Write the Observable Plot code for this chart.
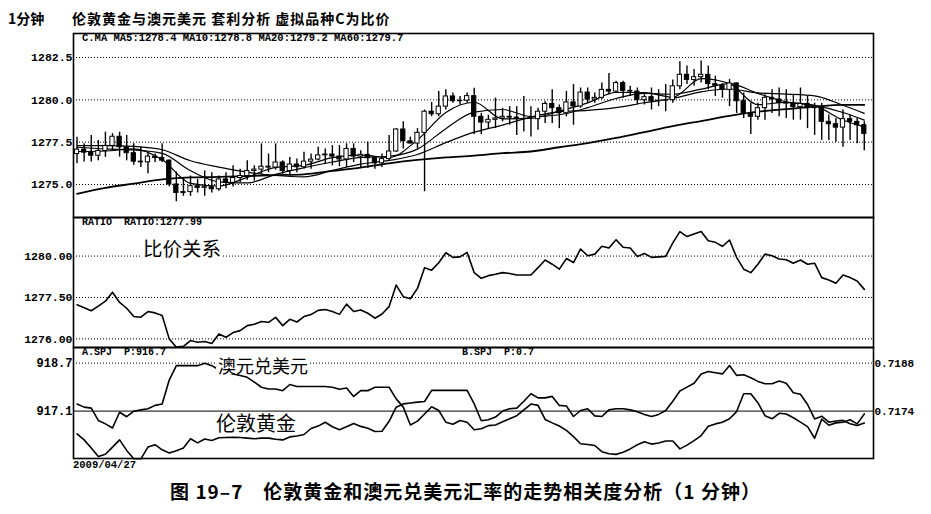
<!DOCTYPE html>
<html><head><meta charset="utf-8">
<script src="https://cdn.jsdelivr.net/npm/d3@7"></script>
<script src="https://cdn.jsdelivr.net/npm/@observablehq/plot@0.6"></script>
<style>
html,body{margin:0;padding:0;background:#fff;overflow:hidden;}
#wrap{position:relative;width:931px;height:514px;font-family:"Noto Sans CJK SC",sans-serif;color:#000;}
.abs{position:absolute;white-space:pre;line-height:1;}
.mono{font-family:"Liberation Mono","DejaVu Sans Mono",monospace;font-weight:bold;font-size:10px;}
.cjk{font-family:"Noto Sans CJK SC",sans-serif;}
</style></head><body><div id="wrap"></div>
<script>
// ---------- data ----------
const closes = [1277.06,1276.88,1276.70,1276.98,1277.28,1277.82,1277.20,1276.85,1276.35,1276.31,
1276.65,1276.57,1276.41,1275.00,1274.50,1274.55,1274.90,1274.80,1274.84,1274.72,
1275.30,1275.10,1275.38,1275.50,1275.80,1275.88,1276.05,1276.00,1276.30,1275.80,
1276.18,1276.02,1276.35,1276.47,1276.72,1276.77,1276.65,1276.48,1277.10,1276.65,
1276.75,1276.55,1276.25,1276.50,1276.95,1278.25,1277.55,1277.42,1278.05,1279.30,
1279.15,1279.60,1280.20,1279.92,1279.95,1280.22,1279.00,1278.66,1278.82,1278.90,
1279.00,1278.95,1278.86,1278.86,1278.86,1279.30,1279.76,1279.51,1279.21,1279.85,
1279.61,1280.43,1280.02,1280.12,1280.59,1280.49,1280.99,1280.53,1280.49,1279.98,
1280.16,1279.92,1279.95,1279.98,1280.80,1281.48,1281.18,1281.34,1281.48,1280.93,
1280.83,1280.59,1280.97,1279.92,1279.21,1279.00,1279.51,1280.12,1280.02,1279.82,
1279.78,1279.57,1279.76,1279.51,1279.57,1278.70,1278.56,1278.36,1278.86,1278.70,
1278.50,1277.99];
const opens = [1276.80,1277.06,1276.88,1276.70,1276.98,1277.28,1277.82,1277.20,1276.85,1276.35,
1276.31,1276.65,1276.57,1276.41,1275.00,1274.50,1274.55,1274.90,1274.80,1274.84,
1274.72,1275.30,1275.10,1275.38,1275.50,1275.80,1275.88,1276.05,1276.00,1276.30,
1275.80,1276.18,1276.02,1276.35,1276.47,1276.72,1276.77,1276.65,1276.48,1277.10,
1276.65,1276.75,1276.55,1276.25,1276.50,1276.95,1278.25,1277.55,1277.42,1278.05,
1279.30,1279.15,1279.60,1280.20,1279.92,1279.95,1280.22,1279.00,1278.66,1278.82,
1278.90,1279.00,1278.95,1278.86,1278.86,1278.86,1279.30,1279.76,1279.51,1279.21,
1279.85,1279.61,1280.43,1280.02,1280.12,1280.59,1280.49,1280.99,1280.53,1280.49,
1279.98,1280.16,1279.92,1279.95,1279.98,1280.80,1281.48,1281.18,1281.34,1281.48,
1280.93,1280.83,1280.59,1280.97,1279.92,1279.21,1279.00,1279.51,1280.12,1280.02,
1279.82,1279.78,1279.57,1279.76,1279.51,1279.57,1278.70,1278.56,1278.36,1278.86,
1278.70,1278.50];
const highs = [1277.79,1277.40,1277.90,1277.60,1278.09,1278.00,1278.09,1277.90,1277.40,1277.20,
1276.85,1276.80,1277.40,1276.45,1275.74,1275.40,1275.50,1275.30,1275.80,1275.70,
1275.50,1275.70,1276.10,1275.90,1276.40,1276.10,1277.40,1276.80,1277.40,1276.40,
1276.60,1276.50,1276.90,1276.80,1277.20,1277.10,1277.30,1277.30,1277.40,1277.40,
1277.00,1277.50,1276.60,1276.80,1277.90,1278.30,1278.70,1277.80,1278.30,1279.40,
1279.85,1280.50,1280.60,1280.40,1280.20,1280.40,1280.68,1279.20,1279.10,1280.10,
1279.50,1279.60,1279.60,1280.20,1279.60,1279.50,1279.90,1280.60,1279.70,1280.50,
1280.90,1280.70,1280.70,1280.40,1281.00,1281.55,1281.10,1281.10,1280.80,1280.70,
1280.40,1280.70,1280.60,1280.90,1281.17,1282.25,1282.00,1281.80,1282.30,1282.00,
1281.40,1280.95,1281.20,1281.00,1280.40,1279.80,1279.80,1280.30,1280.60,1280.70,
1280.60,1280.30,1280.70,1280.20,1279.80,1279.80,1279.10,1278.90,1279.40,1279.10,
1278.90,1278.70];
const lows = [1276.23,1276.33,1276.33,1276.40,1276.60,1277.00,1276.62,1276.40,1276.13,1276.00,
1275.64,1276.30,1276.30,1274.86,1273.98,1274.30,1274.30,1274.50,1274.30,1274.50,
1274.60,1274.75,1274.85,1275.10,1275.25,1275.20,1275.60,1275.70,1275.85,1275.60,
1275.50,1275.70,1275.90,1275.90,1276.40,1276.20,1276.10,1276.05,1276.00,1276.30,
1276.00,1275.95,1275.90,1276.00,1276.40,1276.90,1277.10,1277.40,1277.10,1274.57,
1279.00,1279.00,1279.40,1279.80,1279.70,1279.80,1277.95,1277.95,1278.30,1278.30,
1278.70,1278.50,1277.90,1278.10,1277.80,1278.20,1278.60,1278.60,1278.30,1279.00,
1278.50,1279.50,1279.80,1279.80,1280.00,1280.30,1280.40,1280.10,1280.20,1279.70,
1279.70,1279.40,1279.60,1279.30,1279.80,1280.60,1280.90,1280.80,1281.00,1280.60,
1280.20,1280.10,1279.60,1279.20,1278.90,1277.95,1278.80,1278.80,1279.20,1279.00,
1278.90,1278.80,1278.80,1278.30,1277.90,1277.60,1277.60,1277.50,1277.20,1277.60,
1277.40,1277.00];

// moving averages read at these bar positions
const maIdx = [0,4,8,12,16,20,24,28,32,36,40,44,48,52,56,60,64,68,72,76,80,84,88,92,96,100,104,108,111];
const ma5  = [1276.95,1276.98,1277.10,1276.46,1275.07,1274.91,1275.42,1276.01,1276.13,1276.59,1276.73,1276.60,1277.64,1279.26,1279.86,1278.88,1278.91,1279.33,1279.82,1280.44,1280.43,1280.16,1281.26,1280.96,1279.72,1279.85,1279.64,1278.81,1278.40];
const ma10 = [1277.20,1277.10,1277.04,1276.84,1275.81,1275.16,1275.09,1275.60,1275.99,1276.33,1276.60,1276.67,1277.09,1278.30,1279.28,1279.43,1279.01,1279.12,1279.54,1280.08,1280.38,1280.33,1280.63,1280.96,1280.38,1279.89,1279.67,1279.25,1278.80];
const ma20 = [1277.30,1277.30,1277.25,1277.05,1276.40,1276.03,1275.73,1275.53,1275.45,1275.83,1276.20,1276.42,1276.77,1277.47,1278.09,1278.51,1278.98,1279.30,1279.38,1279.54,1279.83,1280.08,1280.47,1280.64,1280.41,1280.34,1280.23,1279.68,1279.20];
const ma60 = [1274.45,1274.80,1275.05,1275.30,1275.42,1275.45,1275.50,1275.55,1275.60,1275.80,1276.00,1276.25,1276.45,1276.60,1276.70,1276.85,1276.95,1277.20,1277.45,1277.75,1278.10,1278.45,1278.75,1279.05,1279.30,1279.45,1279.60,1279.70,1279.70];

// ratio line (C = gold / AUDUSD)
const ratio = closes;

// A.SPJ London gold (left axis), B.SPJ AUD/USD (right axis)
const gold = [916.34,916.14,915.87,915.59,915.66,915.90,916.14,915.79,915.51,915.51,
915.90,915.98,915.81,915.70,915.78,915.87,916.18,916.04,916.17,916.12,
916.21,916.22,916.23,916.22,916.20,916.18,916.20,916.20,916.16,916.14,
916.24,916.27,916.32,916.52,916.60,916.73,916.58,916.48,916.58,916.69,
916.59,916.53,916.42,916.43,916.76,917.23,917.34,917.37,917.40,917.42,
917.79,917.79,917.79,917.79,917.79,917.79,917.34,916.78,916.81,916.90,
917.10,917.18,917.20,917.43,917.68,917.54,917.54,917.59,917.29,917.27,
916.92,917.12,917.18,916.94,916.92,917.14,917.18,917.18,917.14,917.08,
916.99,916.92,916.99,917.12,917.43,917.77,917.90,918.03,918.34,918.42,
918.38,918.34,918.62,918.29,918.31,918.21,918.09,918.01,918.01,918.10,
918.03,917.71,917.66,917.32,916.84,916.93,916.73,916.77,916.79,916.68,
916.62,916.70];
const aud = [0.71761,0.71752,0.71749,0.71713,0.71703,0.71691,0.71737,0.71724,0.71740,0.71744,
0.71747,0.71757,0.71761,0.71831,0.71873,0.71873,0.71873,0.71873,0.71880,0.71873,
0.71861,0.71854,0.71849,0.71844,0.71839,0.71825,0.71810,0.71805,0.71805,0.71800,
0.71818,0.71812,0.71812,0.71812,0.71812,0.71812,0.71810,0.71804,0.71808,0.71783,
0.71800,0.71800,0.71810,0.71810,0.71810,0.71776,0.71752,0.71700,0.71711,0.71732,
0.71753,0.71742,0.71708,0.71702,0.71713,0.71708,0.71686,0.71689,0.71698,0.71700,
0.71709,0.71718,0.71727,0.71744,0.71761,0.71757,0.71716,0.71706,0.71697,0.71684,
0.71666,0.71645,0.71643,0.71640,0.71622,0.71616,0.71614,0.71620,0.71630,0.71642,
0.71651,0.71644,0.71647,0.71653,0.71653,0.71630,0.71641,0.71654,0.71669,0.71696,
0.71703,0.71708,0.71718,0.71739,0.71791,0.71791,0.71765,0.71727,0.71718,0.71734,
0.71732,0.71721,0.71708,0.71695,0.71661,0.71717,0.71699,0.71706,0.71708,0.71715,
0.71703,0.71732];

// tick values / labels
const topTicks = [1282.5, 1280.0, 1277.5, 1275.0];
const topTickLabels = ["1282.5", "1280.0", "1277.5", "1275.0"];
const midTicks = [1280, 1277.5, 1275];
const midTickLabels = ["1280.00", "1277.50", "1276.00"];
const goldTicks = [918.7, 917.1];
const goldTickLabels = ["918.7", "917.1"];
const audTicks = [0.7188, 0.7174];
const audTickLabels = ["0.7188", "0.7174"];

// ---------- build ----------
const wrap = document.getElementById("wrap");
function addText(txt, cls, left, top, size, extra) {
  const d = document.createElement("div");
  d.className = "abs " + cls;
  d.textContent = txt;
  d.style.left = left + "px"; d.style.top = top + "px";
  if (size) d.style.fontSize = size + "px";
  if (extra) Object.assign(d.style, extra);
  wrap.appendChild(d);
  return d;
}
function place(svg, top) {
  svg.style.position = "absolute"; svg.style.left = "0px"; svg.style.top = top + "px";
  wrap.appendChild(svg);
}
const lab = (ticks, labels) => d => labels[ticks.indexOf(d)];
const monoFont = "Liberation Mono, DejaVu Sans Mono, monospace";
const candles = closes.map((c, i) => ({i, o: opens[i], h: highs[i], l: lows[i], c}));
const maRows = (arr) => maIdx.map((i, k) => ({i, v: arr[k]}));
const common = {
  width: 931, marginLeft: 73, marginRight: 58, marginTop: 0, marginBottom: 0,
  x: {domain: [-0.5, 112.3], axis: null},
  style: {background: "transparent", color: "black", overflow: "visible", fontFamily: monoFont}
};
const dotted = {stroke: "black", strokeDasharray: "1,2", strokeWidth: 1};
const axisOpts = {tickSize: 0, tickPadding: 1, fontSize: 11.5, fontWeight: "bold", fontFamily: monoFont};

// panel 1: candles + MAs
const p1 = Plot.plot({
  ...common, height: 184,
  y: {domain: [1273.05, 1283.92], axis: null},
  marks: [
    Plot.ruleY(topTicks, dotted),
    Plot.axisY({...axisOpts, ticks: topTicks, tickFormat: lab(topTicks, topTickLabels)}),
    Plot.line(maRows(ma60), {x: "i", y: "v", stroke: "black", strokeWidth: 1.8, curve: "monotone-x"}),
    Plot.line(maRows(ma20), {x: "i", y: "v", stroke: "black", strokeWidth: 1.2, curve: "monotone-x"}),
    Plot.line(maRows(ma10), {x: "i", y: "v", stroke: "black", strokeWidth: 1.2, curve: "monotone-x"}),
    Plot.line(maRows(ma5), {x: "i", y: "v", stroke: "black", strokeWidth: 1.2, curve: "monotone-x"}),
    Plot.ruleX(candles, {x: "i", y1: "l", y2: "h", stroke: "black", strokeWidth: 1.4}),
    Plot.rect(candles, {x1: d => d.i - 0.3, x2: d => d.i + 0.3, y1: "o", y2: "c",
      fill: d => d.c >= d.o ? "white" : "black", stroke: "black", strokeWidth: 1}),
    Plot.frame({stroke: "black", strokeWidth: 1.6})
  ]
});
place(p1, 33);

// panel 2: ratio
const p2 = Plot.plot({
  ...common, height: 130,
  y: {domain: [1274.48, 1282.33], axis: null},
  marks: [
    Plot.ruleY(midTicks, dotted),
    Plot.axisY({...axisOpts, ticks: midTicks, tickFormat: lab(midTicks, midTickLabels)}),
    Plot.line(ratio, {x: (d, i) => i, y: d => d, stroke: "black", strokeWidth: 1.6}),
    Plot.frame({stroke: "black", strokeWidth: 1.6})
  ]
});
place(p2, 217);

// panel 3: gold (left axis) + AUD/USD (right axis)
const p3a = Plot.plot({
  ...common, height: 111,
  y: {domain: [915.52, 919.22], axis: null},
  marks: [
    Plot.ruleY([goldTicks[0]], dotted),
    Plot.ruleY([goldTicks[1]], {stroke: "black", strokeWidth: 1}),
    Plot.axisY({...axisOpts, fontSize: 12, ticks: goldTicks, tickFormat: lab(goldTicks, goldTickLabels)}),
    Plot.line(gold, {x: (d, i) => i, y: d => d, stroke: "black", strokeWidth: 1.6}),
    Plot.frame({stroke: "black", strokeWidth: 1.6})
  ]
});
place(p3a, 347);
const p3b = Plot.plot({
  ...common, height: 111,
  y: {domain: [0.71602, 0.71926], axis: null},
  marks: [
    Plot.axisY({...axisOpts, fontSize: 11, anchor: "right", ticks: audTicks, tickFormat: lab(audTicks, audTickLabels)}),
    Plot.line(aud, {x: (d, i) => i, y: d => d, stroke: "black", strokeWidth: 1.6})
  ]
});
place(p3b, 347);

// texts
addText("1分钟", "cjk", 8, 11, 14, {fontWeight: "bold"});
addText("伦敦黄金与澳元美元 套利分析 虚拟品种C为比价", "cjk", 72, 11, 14, {fontWeight: "bold", letterSpacing: "1px"});
addText("C.MA MA5:1278.4 MA10:1278.8 MA20:1279.2 MA60:1279.7", "mono", 82, 33, 10.5);
addText("RATIO  RATIO:1277.99", "mono", 82, 218, 10);
addText("比价关系", "cjk", 141, 238, 19.5, {background: "white", padding: "0 2px"});
addText("A.SPJ  P:916.7", "mono", 82, 348, 10);
addText("B.SPJ  P:0.7", "mono", 462, 348, 10);
addText("澳元兑美元", "cjk", 216, 356, 18, {background: "white", padding: "0 2px"});
addText("伦敦黄金", "cjk", 214, 413, 20, {background: "white", padding: "0 2px"});
addText("2009/04/27", "mono", 73, 460, 10.5);
addText("图 19–7　伦敦黄金和澳元兑美元汇率的走势相关度分析（1 分钟）", "cjk", 0, 481, 19,
  {fontWeight: "bold", width: "931px", textAlign: "center", letterSpacing: "1px"});
</script></body></html>
